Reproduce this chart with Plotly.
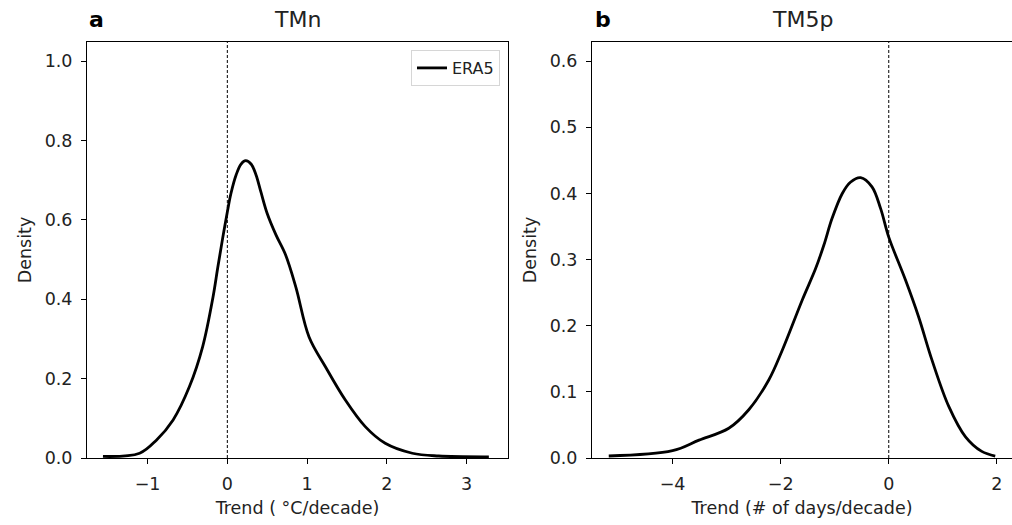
import plotly.graph_objects as go

# Kernel density estimates of ERA5 trends
tmn_x = [-1.56, -1.10, -0.89, -0.68, -0.475, -0.31, -0.18, -0.12, -0.06, 0.0, 0.046, 0.11,
         0.17, 0.23, 0.30, 0.36, 0.42, 0.50, 0.61, 0.73, 0.86, 1.025, 1.23, 1.48, 1.73,
         1.98, 2.32, 2.65, 3.28]
tmn_y = [0.004, 0.012, 0.045, 0.096, 0.18, 0.28, 0.405, 0.480, 0.552, 0.620, 0.667, 0.713,
         0.74, 0.749, 0.74, 0.713, 0.671, 0.616, 0.562, 0.512, 0.43, 0.305, 0.23, 0.146, 0.079,
         0.037, 0.012, 0.005, 0.003]

tm5p_x = [-5.18, -4.0, -3.51, -2.96, -2.59, -2.22, -1.97, -1.60, -1.355, -1.2, -1.05, -0.86,
          -0.71, -0.52, -0.31, -0.15, 0.0, 0.31, 0.55, 0.80, 1.11, 1.42, 1.72, 1.97]
tm5p_y = [0.003, 0.011, 0.027, 0.045, 0.073, 0.118, 0.163, 0.239, 0.286, 0.322, 0.362, 0.400,
          0.417, 0.424, 0.41, 0.377, 0.334, 0.269, 0.214, 0.148, 0.078, 0.032, 0.01, 0.003]

left_ticks = [-1, 0, 1, 2, 3]
right_ticks = [-4, -2, 0, 2]
left_yticks = [0.0, 0.2, 0.4, 0.6, 0.8, 1.0]
right_yticks = [0.0, 0.1, 0.2, 0.3, 0.4, 0.5, 0.6]

FONT = "DejaVu Sans"
TXT = "#222"
FS = 17.5
W, H = 1012, 525

fig = go.Figure()
fig.add_trace(go.Scatter(x=tmn_x, y=tmn_y, mode="lines", name="ERA5",
                         line=dict(color="black", width=2.8, shape="spline", smoothing=1.0),
                         xaxis="x", yaxis="y"))
fig.add_trace(go.Scatter(x=tm5p_x, y=tm5p_y, mode="lines", name="ERA5", showlegend=False,
                         line=dict(color="black", width=2.8, shape="spline", smoothing=1.0),
                         xaxis="x2", yaxis="y2"))

ytop = (H - 42) / H
ybot = (H - 458) / H


def axis(title, standoff, **kw):
    return dict(showline=True, linecolor="black", linewidth=1, mirror=True,
                ticks="outside", ticklen=5, tickwidth=1, tickcolor="black",
                ticklabelstandoff=5,
                showgrid=False, zeroline=False, automargin=False,
                tickfont=dict(family=FONT, size=FS, color=TXT),
                title=dict(text=title, standoff=standoff,
                           font=dict(family=FONT, size=FS, color=TXT)),
                **kw)


fig.update_layout(
    width=W, height=H,
    margin=dict(l=0, r=0, t=0, b=0),
    paper_bgcolor="white", plot_bgcolor="white",
    font=dict(family=FONT, color=TXT),
    xaxis=axis("Trend ( °C/decade)", 8, domain=[87 / W, 508 / W], range=[-1.76, 3.52],
               tickvals=left_ticks, anchor="y"),
    yaxis=axis("Density", 8, domain=[ybot, ytop], range=[0, 1.048], tickvals=left_yticks,
               tickformat=".1f", anchor="x"),
    xaxis2=axis("Trend (# of days/decade)", 8, domain=[592 / W, 1.0], range=[-5.49, 2.28],
                tickvals=right_ticks, anchor="y2"),
    yaxis2=axis("Density", 8, domain=[ybot, ytop], range=[0, 0.629], tickvals=right_yticks,
                tickformat=".1f", anchor="x2"),
    legend=dict(x=500 / W, y=(H - 50) / H, xanchor="right", yanchor="top",
                bgcolor="white", bordercolor="#d6d6d6", borderwidth=1,
                tracegroupgap=0,
                font=dict(family=FONT, size=16, color=TXT)),
    shapes=[
        dict(type="line", xref="x", yref="y domain", x0=0, x1=0, y0=0, y1=1,
             line=dict(color="black", width=1, dash="3px,2px")),
        dict(type="line", xref="x2", yref="y2 domain", x0=0, x1=0, y0=0, y1=1,
             line=dict(color="black", width=1, dash="3px,2px")),
    ],
    annotations=[
        dict(text="<b>a</b>", xref="paper", yref="paper", x=87 / W, y=(H - 19) / H,
             xanchor="left", yanchor="middle", showarrow=False,
             font=dict(family=FONT, size=22, color="black")),
        dict(text="TMn", xref="paper", yref="paper", x=(87 + 508) / 2 / W, y=(H - 19) / H,
             xanchor="center", yanchor="middle", showarrow=False,
             font=dict(family=FONT, size=22, color=TXT)),
        dict(text="<b>b</b>", xref="paper", yref="paper", x=593 / W, y=(H - 19) / H,
             xanchor="left", yanchor="middle", showarrow=False,
             font=dict(family=FONT, size=22, color="black")),
        dict(text="TM5p", xref="paper", yref="paper", x=(592 + 1013) / 2 / W, y=(H - 19) / H,
             xanchor="center", yanchor="middle", showarrow=False,
             font=dict(family=FONT, size=22, color=TXT)),
    ],
)

fig.write_html("out.html")
